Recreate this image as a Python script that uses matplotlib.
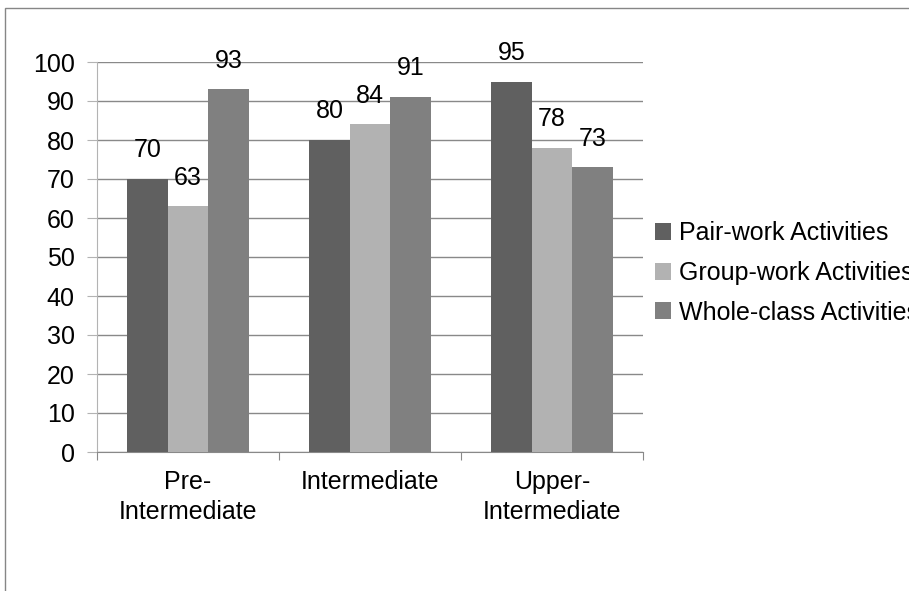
import numpy as np
import matplotlib
matplotlib.use('Agg')
import matplotlib.pyplot as plt
from matplotlib.patches import Rectangle

# data
levels = ['Pre-\nIntermediate', 'Intermediate', 'Upper-\nIntermediate']
series = ['Pair-work Activities', 'Group-work Activities', 'Whole-class Activities']
pair_work = [70, 80, 95]
group_work = [63, 84, 78]
whole_class = [93, 91, 73]
colors = ['#606060', '#b2b2b2', '#808080']

plt.rcParams['font.family'] = ['Liberation Sans', 'DejaVu Sans']
fs = 18

fig = plt.figure(figsize=(9.09, 5.91), dpi=100)
ax = fig.add_axes([97 / 909, 1 - 452 / 591, 546 / 909, 390 / 591])

# outer chart border (top and left edges)
fig.patches.append(Rectangle((5 / 909, -0.1), 2, 1.1 - 8 / 591, transform=fig.transFigure,
                             fill=False, edgecolor='#868686', linewidth=1))

x = np.arange(len(levels))
w = 1 / 4.5
for i, (vals, name) in enumerate(zip([pair_work, group_work, whole_class], series)):
    bars = ax.bar(x + (i - 1) * w, vals, w, color=colors[i], label=name, zorder=3)
    ax.bar_label(bars, padding=12, fontsize=fs)

ax.set_xlim(-0.5, 2.5)
ax.set_ylim(0, 100)
ax.set_yticks(range(0, 101, 10))
ax.yaxis.grid(True, color='#898989', linewidth=1)
ax.set_axisbelow(True)
for s in ['top', 'right']:
    ax.spines[s].set_visible(False)
ax.spines['left'].set_color('#b3b3b3')
ax.spines['bottom'].set_color('#898989')
ax.tick_params(axis='y', length=7, color='#b3b3b3', labelsize=fs, pad=9)

# category labels between tick marks at boundaries
ax.set_xticks([-0.5, 0.5, 1.5, 2.5])
ax.set_xticklabels([])
ax.tick_params(axis='x', length=6, color='#898989')
for xi, lab in zip(x, levels):
    ax.text(xi, -4.5, lab, ha='center', va='top', fontsize=fs, linespacing=1.35,
            transform=ax.transData)

leg = ax.legend(loc='center left', bbox_to_anchor=((655 - 97) / 546, (452 - 273) / 390),
                frameon=False, fontsize=fs, borderaxespad=0, borderpad=0,
                handlelength=0.65, handleheight=0.65, handletextpad=0.3, labelspacing=0.62)

fig.savefig('out.png', dpi=100)
